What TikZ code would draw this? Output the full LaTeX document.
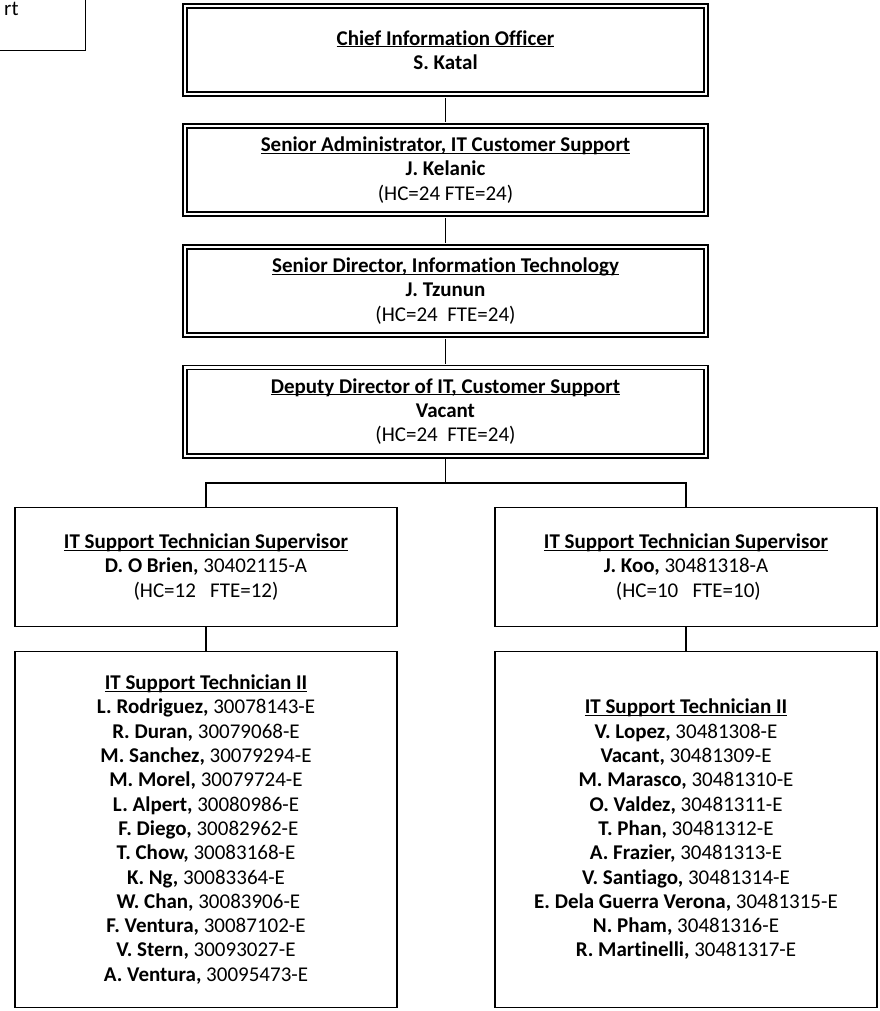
\documentclass[tikz,border=0pt]{standalone}
\usepackage{fontspec}
\setmainfont[Ligatures={NoCommon}]{Carlito}
\newsavebox\ulbox
\newcommand\myul[1]{\sbox\ulbox{#1}\rlap{\rule[-2.2pt]{\wd\ulbox}{1.2pt}}\usebox\ulbox}
\newcommand\fs{\fontsize{21pt}{24.3pt}\selectfont}
\begin{document}
\begin{tikzpicture}[x=1pt,y=-1pt,
  dbox/.style={draw, double, line width=1.6pt, double distance=2.4pt,
    minimum width=521.4pt, minimum height=88.4pt, align=center, font=\fs, inner sep=0pt},
  sbox/.style={draw, line width=1.8pt, minimum width=382pt, align=center, font=\fs, inner sep=0pt},
  conn/.style={line width=1.8pt},
  dconn/.style={line width=1.8pt, shorten <=2.8pt, shorten >=2.8pt}]
\useasboundingbox (0,0) rectangle (879,1011);

% partial box at top left
\draw[line width=1.8pt] (-5,-5) rectangle (85.5,50.5);
\node[anchor=base west, font=\fs, inner sep=0pt] (tltext) at (4,16) {rt};

\node[dbox] (cio) at (445.5,50) {\myul{\textbf{Chief Information Officer}}\\\textbf{S. Katal}};
\node[dbox] (sa) at (445.5,170) {\myul{\textbf{Senior Administrator, IT Customer Support}}\\\textbf{J. Kelanic}\\(HC=24 FTE=24)};
\node[dbox] (sd) at (445.5,291) {\myul{\textbf{Senior Director, Information Technology}}\\\textbf{J. Tzunun}\\(HC=24\ \ FTE=24)};
\node[dbox] (dd) at (445.5,411.5) {\myul{\textbf{Deputy Director of IT, Customer Support}}\\\textbf{Vacant}\\(HC=24\ \ FTE=24)};

\node[sbox, minimum height=119pt] (supL) at (206,567) {\myul{\textbf{IT Support Technician Supervisor}}\\\textbf{D. O Brien,} 30402115-A\\(HC=12\ \ \ FTE=12)};
\node[sbox, minimum height=119pt] (supR) at (686,567) {\myul{\textbf{IT Support Technician Supervisor}}\\\textbf{J. Koo,} 30481318-A\\\ (HC=10\ \ \ FTE=10)};

\node[sbox, minimum height=356pt] (techL) at (206,829.5) {\myul{\textbf{IT Support Technician II}}\\
\textbf{L. Rodriguez,} 30078143-E\\
\textbf{R. Duran,} 30079068-E\\
\textbf{M. Sanchez,} 30079294-E\\
\textbf{M. Morel,} 30079724-E\\
\textbf{L. Alpert,} 30080986-E\\
\ \textbf{F. Diego,} 30082962-E\\
\textbf{T. Chow,} 30083168-E\\
\textbf{K. Ng,} 30083364-E\\
\ \textbf{W. Chan,} 30083906-E\\
\textbf{F. Ventura,} 30087102-E\\
\textbf{V. Stern,} 30093027-E\\
\textbf{A. Ventura,} 30095473-E};

\node[sbox, minimum height=356pt] (techR) at (686,829.5) {\myul{\textbf{IT Support Technician II}}\\
\textbf{V. Lopez,} 30481308-E\\
\textbf{Vacant,} 30481309-E\\
\textbf{M. Marasco,} 30481310-E\\
\textbf{O. Valdez,} 30481311-E\\
\textbf{T. Phan,} 30481312-E\\
\textbf{A. Frazier,} 30481313-E\\
\textbf{V. Santiago,} 30481314-E\\
\textbf{E. Dela Guerra Verona,} 30481315-E\\
\textbf{N. Pham,} 30481316-E\\
\textbf{R. Martinelli,} 30481317-E};

\draw[dconn] (cio.south) -- (sa.north);
\draw[dconn] (sa.south) -- (sd.north);
\draw[dconn] (sd.south) -- (dd.north);
\coordinate (hub) at (445.5,483);
\draw[conn, shorten <=2.8pt] (dd.south) -- (hub);
\draw[conn] (supL.north) |- (hub) -| (supR.north);
\draw[conn] (supL.south) -- (techL.north);
\draw[conn] (supR.south) -- (techR.north);
\end{tikzpicture}
\end{document}
